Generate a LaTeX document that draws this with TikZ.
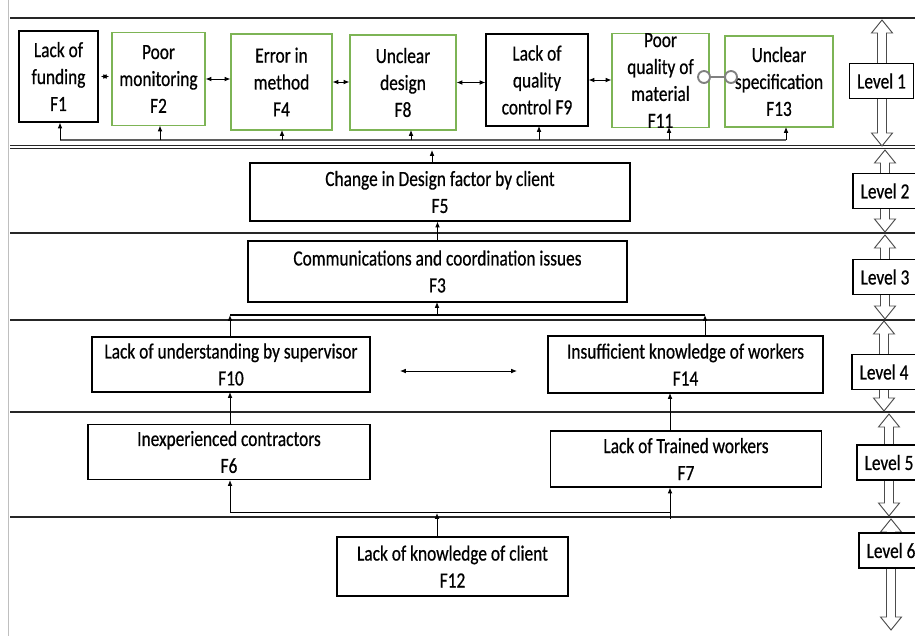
\documentclass[tikz,border=0pt]{standalone}
\usepackage{fontspec}
\setmainfont{Carlito}[FakeStretch=0.8, FakeBold=0.6]
\usetikzlibrary{arrows.meta,calc}

\definecolor{boxgreen}{RGB}{125,180,85}
\definecolor{busgray}{RGB}{95,95,95}

\tikzset{
  wh/.style 2 args={minimum width=#1*0.03cm, minimum height=#2*0.03cm},
  fbox/.style={draw, line width=0.9pt, align=center, inner sep=0pt,
    font=\fontsize{18.5}{23}\selectfont},
  gbox/.style={fbox, draw=boxgreen},
  lvbox/.style={fbox, wh={64}{35}, fill=white},
  lvline/.style={line width=1.1pt, black!85},
  arr/.style={-{Latex[length=5pt,width=4pt]}, line width=0.7pt},
  biarr/.style={{Latex[length=5pt,width=4pt]}-{Latex[length=5pt,width=4pt]}, line width=0.7pt},
  hollow/.style={draw=black!70, line width=0.8pt, fill=white},
}

% hollow level arrow: x, start y, tip y, signed head length
\newcommand\hollowarr[4]{%
  \draw[hollow] ({#1-4.5},#2) -- ({#1-4.5},{#3-(#4)}) -- ({#1-10.5},{#3-(#4)})
    -- (#1,#3) -- ({#1+10.5},{#3-(#4)}) -- ({#1+4.5},{#3-(#4)}) -- ({#1+4.5},#2);}

\begin{document}
\begin{tikzpicture}[x=0.03cm, y=-0.03cm]
\useasboundingbox (0,0) rectangle (915,636);

% frame and level separators
\draw[black!25] (8,0) -- (8,636);
\draw[lvline] (10,18) -- (915,18);
\draw[lvline] (10,145.5) -- (915,145.5);
\draw[lvline] (10,148.5) -- (915,148.5);
\foreach \y in {233,320,412,517}
  \draw[lvline] (10,\y) -- (915,\y);

% level 1
\node[fbox, wh={79}{91}]  (f1)  at (58.5,76.5) {Lack of\\funding\\F1};
\node[gbox, wh={93}{93}]  (f2)  at (158.5,79)  {Poor\\monitoring\\F2};
\node[gbox, wh={101}{96}] (f4)  at (281.5,82)  {Error in\\method\\F4};
\node[gbox, wh={106}{95}] (f8)  at (403,82.5)  {Unclear\\design\\F8};
\node[fbox, wh={102}{92}] (f9)  at (537,80)    {Lack of\\quality\\control F9};
\node[gbox, wh={97}{93}]  (f11) at (660.5,80.5) {Poor\\quality of\\material\\F11};
\node[gbox, wh={108}{91}] (f13) at (779,81.5)  {Unclear\\specification\\F13};

% level 2 to 6
\node[fbox, wh={380}{58}] (f5)  at (440,192)   {Change in Design factor by client\\F5};
\node[fbox, wh={379}{61}] (f3)  at (437.5,271.5) {Communications and coordination issues\\F3};
\node[fbox, wh={278}{55}] (f10) at (231,364.5) {Lack of understanding by supervisor\\F10};
\node[fbox, wh={275}{57}] (f14) at (685.5,364.5) {Insufficient knowledge of workers\\F14};
\node[fbox, wh={282}{55}] (f6)  at (229,452)   {Inexperienced contractors\\F6};
\node[fbox, wh={271}{56}] (f7)  at (686,459)   {Lack of Trained workers\\F7};
\node[fbox, wh={231}{59}] (f12) at (452.5,566.5) {Lack of knowledge of client\\F12};

% links inside level 1
\draw[biarr] ([xshift=2pt]f1.east) -- ([xshift=-2pt]f1.east -| f2.west);
\draw[biarr] (f2.east) -- (f2.east -| f4.west);
\draw[biarr] (f4.east) -- (f4.east -| f8.west);
\draw[biarr] (f8.east) -- (f8.east -| f9.west);
\draw[biarr] (f9.east) -- (f9.east -| f11.west);
\coordinate (c1) at (704,77);
\coordinate (c2) at (731,77);
\draw[gray, line width=1.6pt] (c1) -- (c2);
\draw[gray, line width=1.6pt, fill=white] (c1) circle (6) (c2) circle (6);

% bus under level 1
\coordinate (bus1w) at (60,140);
\coordinate (bus1e) at (786,140);
\draw[busgray, line width=1.2pt] (bus1w) -- (bus1e);
\draw[arr] (bus1w) -- (bus1w |- f1.south);
\draw[arr] (160,140) -- (160,125.5);
\draw[arr] (282,140) -- (282,130);
\draw[arr] (411,140) -- (411,130);
\draw[arr] (539,140) -- (539,126);
\draw[arr] (669,140) -- (669,127);
\draw[arr] (bus1e) -- (786,127);
\draw[arr] (f5.north -| 432,0) -- (432,150);

% level 3 and 4
\draw[arr] (f3.north) -- (f3.north |- f5.south);
\coordinate (bus2w) at (230,315);
\coordinate (bus2e) at (705,315);
\draw[line width=1pt] (bus2w) -- (bus2e);
\draw[arr] (f10.north -| bus2w) -- (bus2w);
\draw[arr] (f14.north -| bus2e) -- (bus2e);
\draw[arr] (437,315) -- (437,302);
\coordinate (m1) at (400,371);
\coordinate (m2) at (517,371);
\draw[biarr] (m1) -- (m2);

% level 5 and 6
\draw[arr] (f6.north -| 230,0) -- (230,392);
\draw[arr] (f7.north -| 670,0) -- (670,393);
\coordinate (bus3w) at (230,512);
\coordinate (bus3e) at (670,512);
\draw[line width=0.8pt] (bus3w) -- (bus3e) -- (670,519);
\draw[arr] (bus3w) -- (bus3w |- f6.south);
\draw[arr] (bus3e) -- (bus3e |- f7.south);
\draw[arr] (f12.north -| 437,0) -- (437,513);

% level column
\hollowarr{882}{63}{20}{-13}
\hollowarr{882}{99}{146}{13}
\hollowarr{885}{173}{150}{-13}
\hollowarr{885}{209}{232}{13}
\hollowarr{885}{260}{235}{-13}
\hollowarr{885}{294}{319}{13}
\hollowarr{884}{355}{321}{-13}
\hollowarr{884}{389}{411}{13}
\hollowarr{889}{445}{414}{-13}
\hollowarr{889}{480}{516}{13}
\hollowarr{891}{533}{519}{-13}
\hollowarr{891}{568}{630}{13}
\foreach \n/\x/\y in {1/881.5/81, 2/885/191, 3/885/277, 4/884/372, 5/889/462.5, 6/891/550.5}
  \node[lvbox] (lv\n) at (\x,\y) {Level \n};
\end{tikzpicture}
\end{document}
